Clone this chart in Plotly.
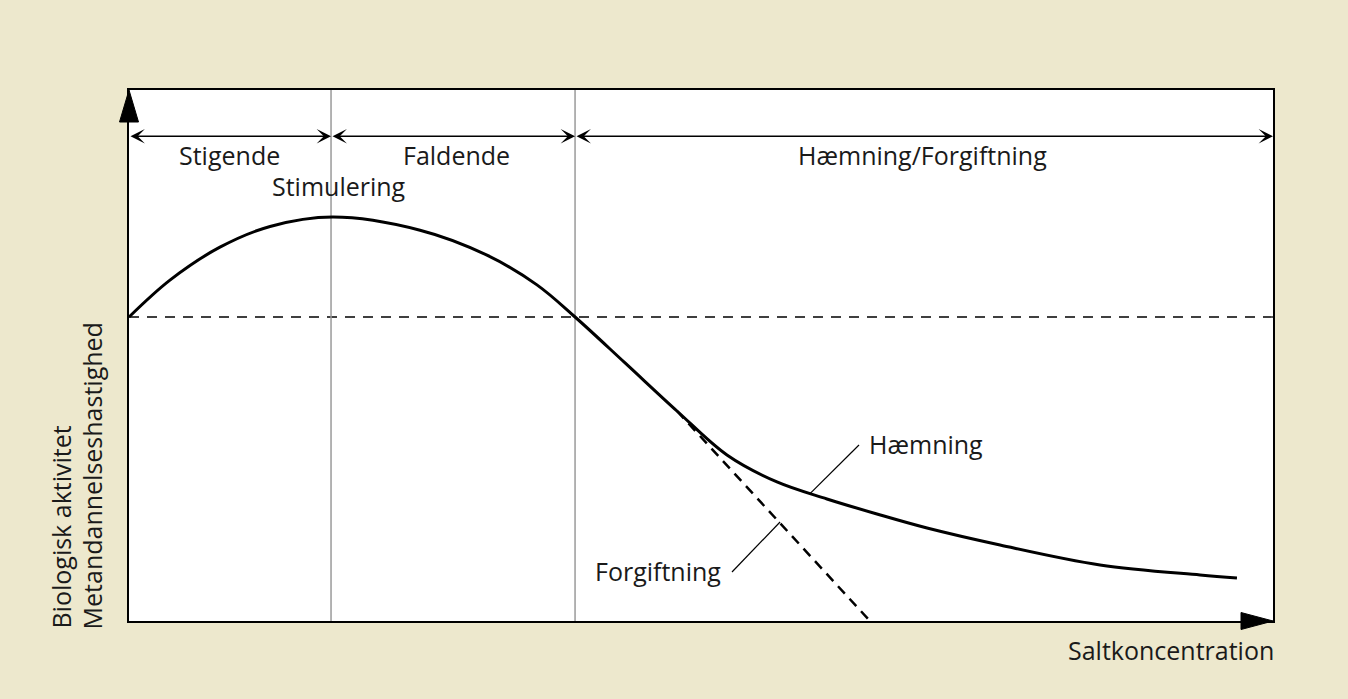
"""Salt concentration vs. biological activity (stimulation / inhibition sketch)."""

import plotly.graph_objects as go

# --- data (arbitrary units: x = salt concentration 0-100, y = activity 0-100) ---
conc = [0.0, 3.58, 7.95, 12.33, 17.83, 25.44, 31.29, 35.66, 38.99,
        43.36, 47.90, 52.27, 56.64, 61.01, 65.38, 69.76, 76.14, 84.88, 93.62, 96.85]
activity = [57.25, 64.2, 70.4, 74.3, 76.08, 73.6, 68.9, 63.3, 57.25,
            48.6, 39.55, 31.26, 26.18, 22.98, 20.15, 17.51, 14.31, 10.55, 8.66, 8.10]

toxic_conc = [47.90, 64.77]
toxic_activity = [39.55, 0.0]

baseline = 57.25
zone_edges = [0.0, 17.66, 38.99, 100.0]
zone_labels = ["Stigende", "Faldende", "Hæmning/Forgiftning"]
zone_label_x = [8.8, 28.6, 69.4]
zone_arrow_y = 91.3
zone_label_y = 87.8

# leader lines: [curve point, label end]
haem_leader_x = [59.53, 63.81]
haem_leader_y = [24.0, 33.15]
forg_leader_x = [56.91, 52.71]
forg_leader_y = [18.64, 9.23]

FONT = "Open Sans"
BG = "#ede8cd"

fig = go.Figure()

# horizontal reference level
fig.add_trace(go.Scatter(x=[0, 100], y=[baseline, baseline], mode="lines",
                         line=dict(color="black", width=1.3, dash="10px,8px"),
                         hoverinfo="skip"))

# zone separators
for xv in zone_edges[1:3]:
    fig.add_trace(go.Scatter(x=[xv, xv], y=[0, 100], mode="lines",
                             line=dict(color="#9a9a9a", width=1.5), hoverinfo="skip"))

# poisoning branch
fig.add_trace(go.Scatter(x=toxic_conc, y=toxic_activity, mode="lines",
                         line=dict(color="black", width=2.5, dash="10px,7px"),
                         hoverinfo="skip"))

# main response curve
fig.add_trace(go.Scatter(x=conc, y=activity, mode="lines",
                         line=dict(color="black", width=3, shape="spline", smoothing=1.0),
                         hoverinfo="skip"))

# leader lines
for lx, ly in [(haem_leader_x, haem_leader_y), (forg_leader_x, forg_leader_y)]:
    fig.add_trace(go.Scatter(x=lx, y=ly, mode="lines",
                             line=dict(color="black", width=1.2), hoverinfo="skip"))

annotations = []
# double-headed zone arrows
for x0, x1 in zip(zone_edges[:-1], zone_edges[1:]):
    annotations.append(dict(x=x1, y=zone_arrow_y, ax=x0, ay=zone_arrow_y,
                            xref="x", yref="y", axref="x", ayref="y", text="",
                            showarrow=True, arrowside="end+start", arrowhead=3,
                            startarrowhead=3, arrowsize=1.6, startarrowsize=1.6,
                            arrowwidth=1.5, arrowcolor="black", standoff=0,
                            startstandoff=0))
for label, lx in zip(zone_labels, zone_label_x):
    annotations.append(dict(x=lx, y=zone_label_y, text=label, showarrow=False,
                            xanchor="center", yanchor="middle"))
annotations.append(dict(x=18.36, y=81.9, text="Stimulering", showarrow=False,
                        xanchor="center", yanchor="middle"))
annotations.append(dict(x=64.5, y=33.4, text="Hæmning", showarrow=False,
                        xanchor="left", yanchor="middle"))
annotations.append(dict(x=51.92, y=9.4, text="Forgiftning", showarrow=False,
                        xanchor="right", yanchor="middle"))
# axis titles (paper coordinates, outside the plot area)
annotations.append(dict(x=1.0026, y=-0.0546, xref="paper", yref="paper",
                        text="Saltkoncentration", showarrow=False,
                        xanchor="right", yanchor="middle"))
annotations.append(dict(x=-0.0594, y=-0.0188, xref="paper", yref="paper",
                        text="Biologisk aktivitet", showarrow=False,
                        textangle=-90, xanchor="center", yanchor="bottom"))
annotations.append(dict(x=-0.0315, y=-0.0188, xref="paper", yref="paper",
                        text="Metandannelseshastighed", showarrow=False,
                        textangle=-90, xanchor="center", yanchor="bottom"))

# axis arrowheads (pixel-sized, anchored at the axis ends, not clipped)
shapes = [
    dict(type="path", xref="paper", yref="paper", xsizemode="pixel", ysizemode="pixel",
         xanchor=0, yanchor=1, path="M-9.5,-32 L9.5,-32 L0,0 Z",
         fillcolor="black", line=dict(color="black", width=1)),
    dict(type="path", xref="paper", yref="paper", xsizemode="pixel", ysizemode="pixel",
         xanchor=1, yanchor=0, path="M-32,8.5 L-32,-8.5 L0,0 Z",
         fillcolor="black", line=dict(color="black", width=1)),
]

axis_style = dict(range=[0, 100], showgrid=False, zeroline=False, showticklabels=False,
                  ticks="", showline=True, mirror=True, linecolor="black", linewidth=1.5,
                  fixedrange=True)

fig.update_layout(
    width=1348, height=699,
    paper_bgcolor=BG, plot_bgcolor="white",
    margin=dict(l=129, r=75, t=90, b=78),
    showlegend=False,
    font=dict(family=FONT, size=25, color="#1a1a1a"),
    xaxis=axis_style, yaxis=axis_style,
    annotations=annotations,
    shapes=shapes,
)

fig.write_html(
    "out.html",
    config={"displayModeBar": False},
    post_script=f"document.body.style.margin='0';document.body.style.background='{BG}';",
)
